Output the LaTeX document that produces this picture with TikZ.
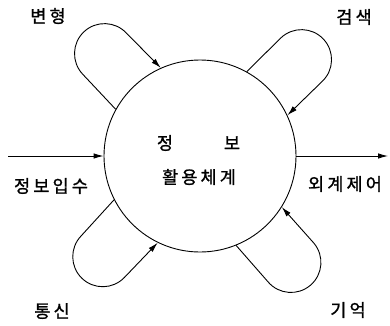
\documentclass[tikz,border=0pt]{standalone}
\usepackage{fontspec}
\newfontfamily\kr[LetterSpace=18,FakeBold=1.2]{Noto Sans CJK KR}
\usetikzlibrary{calc,arrows.meta}
\begin{document}
\begin{tikzpicture}[x=1pt,y=1pt,
  lbl/.style={font=\kr\fontsize{17.5}{19}\selectfont, inner sep=0pt},
  ln/.style={line width=0.9pt},
  arr/.style={ln,-{Latex[length=10pt,width=5.5pt]}}]
\useasboundingbox (0,0) rectangle (390,325);
\node[circle, draw, ln, minimum size=192pt, inner sep=0pt] (c) at (200,169) {};
\coordinate (in) at (8,169);
\coordinate (out) at (388,169);
\draw[arr] (in) -- (c.west);
\draw[arr] (c.east) -- (out);
% top loops
\foreach \t in {133,43.5}{
  \draw[arr] (c.{\t+18.2}) -- ($(c.center)+(\t:140)+(\t+90:30)$)
    arc[start angle=\t+90, end angle=\t-90, radius=30] -- (c.{\t-18.2});
}
% bottom loops
\foreach \t in {226,310.5}{
  \draw[arr] (c.{\t-18.2}) -- ($(c.center)+(\t:140)+(\t-90:30)$)
    arc[start angle=\t-90, end angle=\t+90, radius=30] -- (c.{\t+18.2});
}
\node[lbl] (t1) at (48,309) {변형};
\node[lbl] (t2) at (354,308) {검색};
\node[lbl] (t3) at (51,139) {정보입수};
\node[lbl] (t4) at (345,141) {외계제어};
\node[lbl] (t5) at (52,14) {통신};
\node[lbl] (t6) at (348,15) {기억};
\node[lbl] (t7) at (165,182) {정};
\node[lbl] (t8) at (232,182) {보};
\node[lbl] (t9) at (199,148) {활용체계};
\end{tikzpicture}
\end{document}
